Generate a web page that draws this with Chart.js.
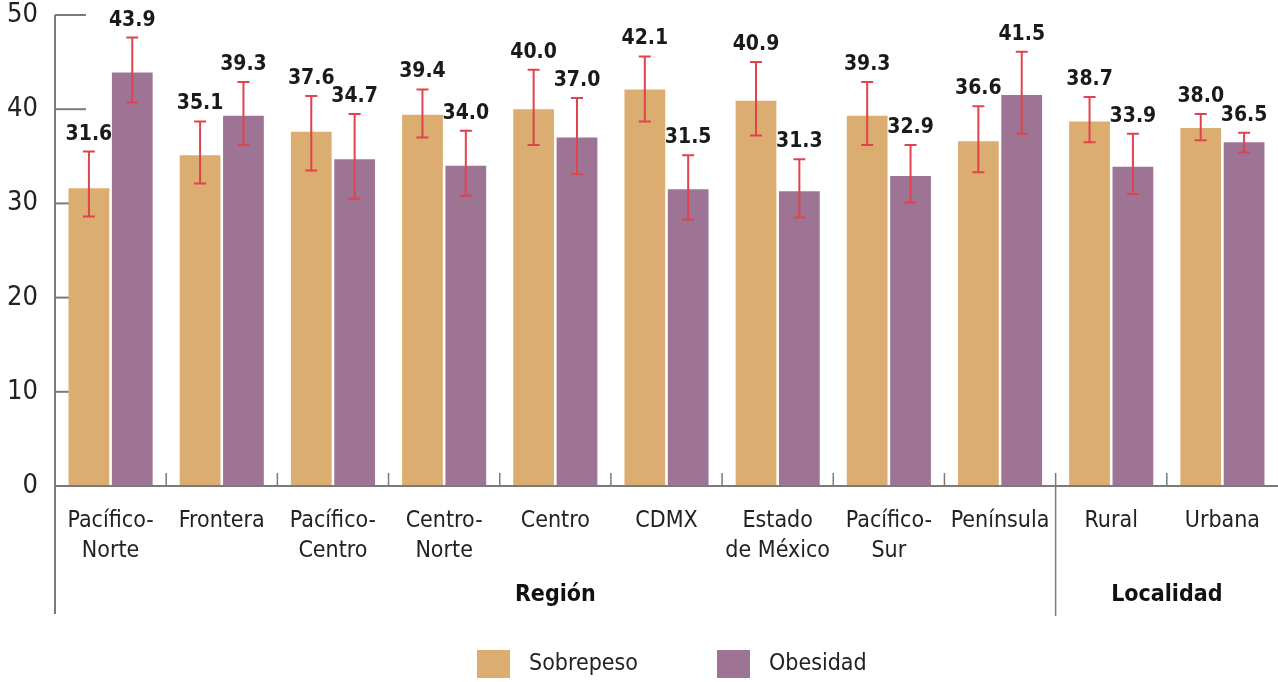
<!DOCTYPE html>
<html>
<head>
<meta charset="utf-8">
<script src="https://cdn.jsdelivr.net/npm/chart.js@4"></script>
<style>
  html, body { margin: 0; padding: 0; background: #fff; }
  #wrap { width: 1278px; height: 682px; }
</style>
</head>
<body>
<div id="wrap"><canvas id="barChart"></canvas></div>
<script>
const categories = [
    ['Pacífico-', 'Norte'], 'Frontera', ['Pacífico-', 'Centro'], ['Centro-', 'Norte'],
    'Centro', 'CDMX', ['Estado', 'de México'], ['Pacífico-', 'Sur'], 'Península',
    'Rural', 'Urbana'
];
const sobrepeso     = [31.6, 35.1, 37.6, 39.4, 40.0, 42.1, 40.9, 39.3, 36.6, 38.7, 38.0];
const sobrepesoLow  = [28.6, 32.1, 33.5, 37.0, 36.2, 38.7, 37.2, 36.2, 33.3, 36.5, 36.7];
const sobrepesoHigh = [35.5, 38.7, 41.4, 42.1, 44.2, 45.6, 45.0, 42.9, 40.3, 41.3, 39.5];
const obesidad      = [43.9, 39.3, 34.7, 34.0, 37.0, 31.5, 31.3, 32.9, 41.5, 33.9, 36.5];
const obesidadLow   = [40.7, 36.2, 30.5, 30.8, 33.1, 28.3, 28.5, 30.1, 37.4, 31.0, 35.4];
const obesidadHigh  = [47.6, 42.9, 39.5, 37.7, 41.2, 35.1, 34.7, 36.2, 46.1, 37.4, 37.5];
const yTicks = [0, 10, 20, 30, 40, 50];
const groups = [
    { label: 'Región', from: 0, to: 8 },
    { label: 'Localidad', from: 9, to: 10 }
];

const FONT = '"Liberation Sans Narrow", "DejaVu Sans Condensed", sans-serif';
const GRAY = '#7a7a7a';
const RED = '#e0434d';

const lows = [sobrepesoLow, obesidadLow];
const highs = [sobrepesoHigh, obesidadHigh];

const decor = {
    id: 'decor',
    beforeDatasetsDraw(chart) {
        const { ctx, chartArea, scales: { y } } = chart;
        ctx.save();
        ctx.strokeStyle = GRAY;
        ctx.lineWidth = 2;
        // short tick lines on the inside of the y axis
        yTicks.forEach(v => {
            const py = y.getPixelForValue(v);
            ctx.beginPath();
            ctx.moveTo(chartArea.left, py);
            ctx.lineTo(chartArea.left + 31, py);
            ctx.stroke();
        });
        ctx.restore();
    },
    afterDatasetsDraw(chart) {
        const { ctx, chartArea, scales: { x, y } } = chart;
        ctx.save();
        // axes
        ctx.strokeStyle = GRAY;
        ctx.lineWidth = 2;
        ctx.beginPath();
        ctx.moveTo(chartArea.left, chartArea.top);
        ctx.lineTo(chartArea.left, 614);
        ctx.moveTo(chartArea.left, chartArea.bottom);
        ctx.lineTo(chartArea.right, chartArea.bottom);
        ctx.stroke();
        // category separators
        ctx.lineWidth = 1.5;
        for (let i = 1; i < categories.length; i++) {
            const px = (x.getPixelForValue(i - 1) + x.getPixelForValue(i)) / 2;
            ctx.beginPath();
            ctx.moveTo(px, chartArea.bottom - 13);
            ctx.lineTo(px, i === groups[1].from ? 616 : chartArea.bottom);
            ctx.stroke();
        }
        // error bars and value labels
        chart.data.datasets.forEach((ds, d) => {
            const meta = chart.getDatasetMeta(d);
            meta.data.forEach((bar, i) => {
                const top = y.getPixelForValue(highs[d][i]);
                const bot = y.getPixelForValue(lows[d][i]);
                ctx.strokeStyle = RED;
                ctx.lineWidth = 2;
                ctx.beginPath();
                ctx.moveTo(bar.x, top); ctx.lineTo(bar.x, bot);
                ctx.moveTo(bar.x - 6, top); ctx.lineTo(bar.x + 6, top);
                ctx.moveTo(bar.x - 6, bot); ctx.lineTo(bar.x + 6, bot);
                ctx.stroke();
                ctx.fillStyle = '#1a1a1a';
                ctx.font = 'bold 21px ' + FONT;
                ctx.textAlign = 'center';
                ctx.textBaseline = 'bottom';
                ctx.fillText(ds.data[i].toFixed(1), bar.x, top - 7);
            });
        });
        // group labels
        ctx.fillStyle = '#111';
        ctx.font = 'bold 23px ' + FONT;
        ctx.textAlign = 'center';
        ctx.textBaseline = 'middle';
        const half = (x.getPixelForValue(1) - x.getPixelForValue(0)) / 2;
        groups.forEach(g => {
            const a = g.from === 0 ? chartArea.left : x.getPixelForValue(g.from) - half;
            const b = x.getPixelForValue(g.to) + half;
            ctx.fillText(g.label, (a + b) / 2, 595);
        });
        // legend
        const legendX = [477, 717];
        ctx.font = '23px ' + FONT;
        ctx.textAlign = 'left';
        chart.data.datasets.forEach((ds, d) => {
            ctx.fillStyle = ds.backgroundColor;
            ctx.fillRect(legendX[d], 650, 33, 28);
            ctx.fillStyle = '#222';
            ctx.fillText(ds.label, legendX[d] + 52, 664);
        });
        ctx.restore();
    }
};

new Chart(document.getElementById('barChart'), {
    type: 'bar',
    data: {
        labels: categories,
        datasets: [
            { label: 'Sobrepeso', data: sobrepeso, backgroundColor: '#dcad70' },
            { label: 'Obesidad', data: obesidad, backgroundColor: '#9e7494' }
        ]
    },
    options: {
        responsive: true,
        maintainAspectRatio: false,
        animation: false,
        categoryPercentage: 0.78,
        barPercentage: 0.94,
        layout: { padding: { top: 15, left: 0, right: 0, bottom: 0 } },
        plugins: {
            legend: { display: false },
            tooltip: { enabled: false }
        },
        scales: {
            x: {
                grid: { display: false },
                border: { display: false },
                ticks: {
                    color: '#222',
                    font: { family: FONT, size: 23, lineHeight: 1.3 },
                    padding: 12,
                    maxRotation: 0,
                    autoSkip: false
                },
                afterFit(s) { s.height = 196; s.paddingLeft = 0; s.paddingRight = 0; }
            },
            y: {
                min: 0,
                max: 50,
                grid: { display: false },
                border: { display: false },
                ticks: {
                    stepSize: 10,
                    color: '#222',
                    font: { family: FONT, size: 27 },
                    padding: 9
                },
                afterFit(s) { s.width = 55; s.paddingTop = 0; s.paddingBottom = 0; }
            }
        }
    },
    plugins: [decor]
});
</script>
</body>
</html>
